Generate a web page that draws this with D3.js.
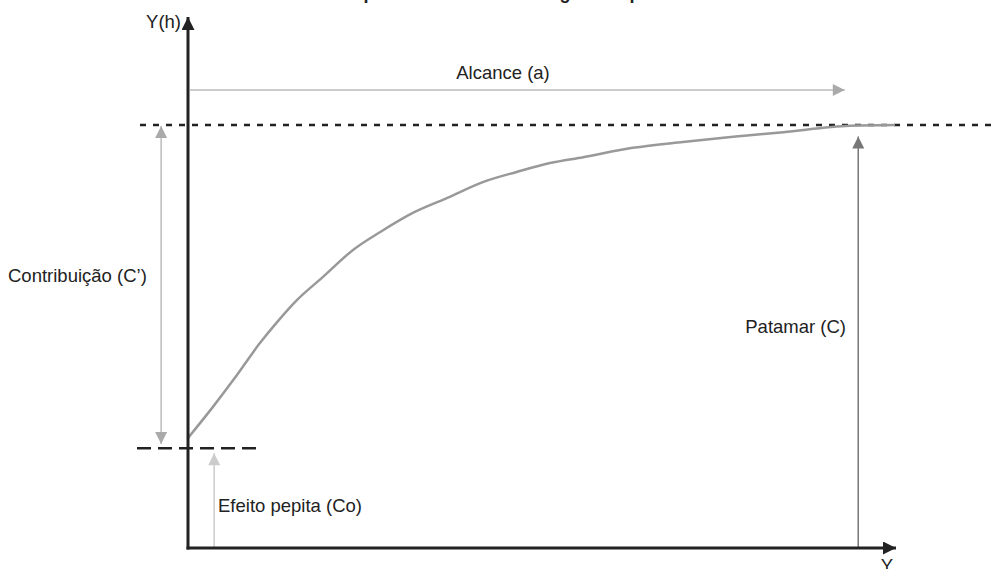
<!DOCTYPE html>
<html>
<head>
<meta charset="utf-8">
<script src="https://cdn.jsdelivr.net/npm/d3@7"></script>
<style>
  body { margin: 0; background: #fff; }
  text { font-family: "Liberation Sans", Arial, sans-serif; fill: #222; }
</style>
</head>
<body>
<script>
// Semivariogram curve (h = distance, gamma = semivariance)
var hValues =     [0, 3.5, 6.4, 10.2, 12.6, 15.4, 19.1, 23.3, 27.2, 31.8, 36.6, 41.7, 46.5, 51.2, 55.9, 62.9, 70.0, 77.1, 84.2, 93.6, 100];
var gammaValues = [26, 33.3, 39.7, 48.5, 53.4, 58.6, 64.1, 70.4, 74.7, 79.2, 82.7, 86.5, 88.9, 91.0, 92.4, 94.6, 96.0, 97.2, 98.3, 99.8, 100];

// Reference levels
var sill = 100,          // Patamar (C)
    nuggetLine = 23.6,   // Efeito pepita (Co)
    range = 92.9;        // Alcance (a)

// Labels
var titleText = "Componentes do semivariograma típico",
    yAxisLabel = "Y(h)",
    xAxisLabel = "Y",
    labelAlcance = "Alcance (a)",
    labelContrib = "Contribuição (C’)",
    labelPatamar = "Patamar (C)",
    labelPepita = "Efeito pepita (Co)";

var width = 995,
    height = 569,
    fontSize = "18.5px";

var svg = d3.select("body")
    .append("svg")
    .attr("width", width)
    .attr("height", height);

// Scales
var x = d3.scaleLinear().domain([0, 100]).range([188, 895]);
var y = d3.scaleLinear().domain([0, 100]).range([548, 125]);

// Arrow heads
var defs = svg.append("defs");
function marker(id, color, w, l) {
    defs.append("marker")
        .attr("id", id)
        .attr("viewBox", "0 0 10 10")
        .attr("refX", 10)
        .attr("refY", 5)
        .attr("markerUnits", "userSpaceOnUse")
        .attr("markerWidth", l)
        .attr("markerHeight", w)
        .attr("orient", "auto-start-reverse")
        .append("path")
        .attr("d", "M0,0L10,5L0,10Z")
        .attr("fill", color);
}
marker("axisHead", "#222", 13, 13);
marker("alcHead", "#aaa", 12, 14);
marker("contHead", "#aaa", 12, 14);
marker("patHead", "#777", 12, 14);
marker("pepHead", "#ccc", 12, 14);

// Title (cut off at the top, as in the original)
svg.append("text")
    .attr("x", 495)
    .attr("y", -1)
    .attr("text-anchor", "middle")
    .style("font-size", "18px")
    .style("font-weight", "bold")
    .text(titleText);

// Sill dotted line
svg.append("line")
    .attr("x1", 140).attr("x2", width)
    .attr("y1", y(sill)).attr("y2", y(sill))
    .attr("stroke", "#222")
    .attr("stroke-width", 2.5)
    .attr("stroke-dasharray", "6,7");

// Nugget dashed line
svg.append("line")
    .attr("x1", 137).attr("x2", 257)
    .attr("y1", y(nuggetLine)).attr("y2", y(nuggetLine))
    .attr("stroke", "#222")
    .attr("stroke-width", 2.5)
    .attr("stroke-dasharray", "14,7");

// Curve
var line = d3.line()
    .x(function (d, i) { return x(hValues[i]); })
    .y(function (d) { return y(d); })
    .curve(d3.curveMonotoneX);

svg.append("path")
    .datum(gammaValues)
    .attr("d", line)
    .attr("fill", "none")
    .attr("stroke", "#999")
    .attr("stroke-width", 2.5);

// Alcance arrow
svg.append("line")
    .attr("x1", x(0) + 2).attr("x2", x(range))
    .attr("y1", 90).attr("y2", 90)
    .attr("stroke", "#bbb")
    .attr("stroke-width", 1.5)
    .attr("marker-end", "url(#alcHead)");

svg.append("text")
    .attr("x", 503)
    .attr("y", 79)
    .attr("text-anchor", "middle")
    .style("font-size", fontSize)
    .text(labelAlcance);

// Contribuição arrow (double headed)
svg.append("line")
    .attr("x1", x(-3.8)).attr("x2", x(-3.8))
    .attr("y1", y(sill) + 1).attr("y2", y(gammaValues[0]) + 6)
    .attr("stroke", "#bbb")
    .attr("stroke-width", 1.5)
    .attr("marker-start", "url(#contHead)")
    .attr("marker-end", "url(#contHead)");

svg.append("text")
    .attr("x", 8)
    .attr("y", 282)
    .style("font-size", fontSize)
    .text(labelContrib);

// Patamar arrow
svg.append("line")
    .attr("x1", x(94.8)).attr("x2", x(94.8))
    .attr("y1", y(0)).attr("y2", y(97.3))
    .attr("stroke", "#777")
    .attr("stroke-width", 1.5)
    .attr("marker-end", "url(#patHead)");

svg.append("text")
    .attr("x", 846)
    .attr("y", 333)
    .attr("text-anchor", "end")
    .style("font-size", fontSize)
    .text(labelPatamar);

// Efeito pepita arrow
svg.append("line")
    .attr("x1", x(3.7)).attr("x2", x(3.7))
    .attr("y1", y(0)).attr("y2", y(nuggetLine) + 5)
    .attr("stroke", "#ccc")
    .attr("stroke-width", 1.5)
    .attr("marker-end", "url(#pepHead)");

svg.append("text")
    .attr("x", 218)
    .attr("y", 512)
    .style("font-size", fontSize)
    .text(labelPepita);

// Axes with arrow heads
svg.append("line")
    .attr("x1", x(0)).attr("x2", x(0))
    .attr("y1", y(0) + 1.5).attr("y2", 17)
    .attr("stroke", "#222")
    .attr("stroke-width", 3)
    .attr("marker-end", "url(#axisHead)");

svg.append("line")
    .attr("x1", x(0) - 1.5).attr("x2", 896)
    .attr("y1", y(0)).attr("y2", y(0))
    .attr("stroke", "#222")
    .attr("stroke-width", 3)
    .attr("marker-end", "url(#axisHead)");

svg.append("text")
    .attr("x", 181)
    .attr("y", 28)
    .attr("text-anchor", "end")
    .style("font-size", fontSize)
    .text(yAxisLabel);

svg.append("text")
    .attr("x", 887)
    .attr("y", 572)
    .attr("text-anchor", "middle")
    .style("font-size", fontSize)
    .text(xAxisLabel);
</script>
</body>
</html>
